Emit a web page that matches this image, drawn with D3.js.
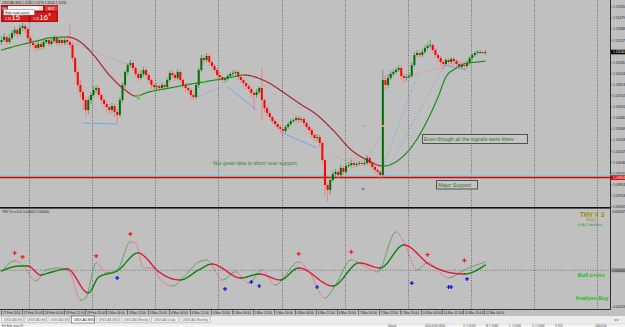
<!DOCTYPE html>
<html>
<head>
<meta charset="utf-8">
<title>USDCAD M30 - THV</title>
<script src="https://cdn.jsdelivr.net/npm/d3@7"></script>
<style>
  body { margin: 0; background: #c0c0c0; overflow: hidden; }
  svg { display: block; font-family: "Liberation Sans", Arial, sans-serif; }
</style>
</head>
<body>
<svg width="625" height="327"></svg>
<script>
// prices are kept in pips above 1.1000 (one pip = 0.0001)
var BASE = 1.1, PIP = 0.0001;

// hourly bars, 27 Feb 2014 12:00 .. 11 Mar 2014 04:00
var openPips = [124,126,129,124,128,133,136,132,138,140, 137,128,123,121,118,122,119,124,126,122,
  125,128,123,126,123,126,124,121,108,94, 81,74,66,56,66,71,76,78,71,66,
  62,59,56,60,54,51,66,81,94,101, 103,98,92,88,92,96,91,86,81,79,
  80,78,81,79,86,93,91,88,94,86, 81,78,76,71,69,81,96,108,106,110,
  104,100,96,91,89,86,87,90,92,93, 94,89,86,83,80,77,73,71,74,78,
  66,58,53,49,45,42,39,37,35,39, 42,45,46,48,46,47,43,39,36,31,
  28,29,23,6,-19,-24,-14,-8,-6,-9, -2,-6,0,1,3,1,2,3,2,3,
  8,3,-1,-4,-6,-9,86,81,88,92, 94,96,98,90,88,89,90,101,111,113,
  111,114,118,120,121,116,111,108,104,102, 106,104,107,105,102,99,101,100,103,108,
  111,113,114,114,113];
var closePips = [126,129,124,128,133,136,132,138,140,137, 128,123,121,118,122,119,124,126,122,125,
  128,123,126,123,126,124,121,108,94,81, 74,66,56,66,71,76,78,71,66,62,
  59,56,60,54,51,66,81,94,101,103, 98,92,88,92,96,91,86,81,79,80,
  78,81,79,86,93,91,88,94,86,81, 78,76,71,69,81,96,108,106,110,104,
  100,96,91,89,86,87,90,92,93,94, 89,86,83,80,77,73,71,74,78,66,
  58,53,49,45,42,39,37,35,39,42, 45,46,48,46,47,43,39,36,31,28,
  29,23,6,-19,-24,-14,-8,-6,-9,-2, -6,0,1,3,1,2,3,2,3,8,
  3,-1,-4,-6,-9,86,81,88,92,94, 96,98,90,88,89,90,101,111,113,111,
  114,118,120,121,116,111,108,104,102,106, 104,107,105,102,99,101,100,103,108,111,
  113,114,114,113,114];
var highPips = [130,133,131,132,136,139,138,141,143,142, 139,130,126,123,124,124,126,129,128,128,
  131,130,128,128,129,128,141,123,111,98, 86,77,69,69,74,80,81,80,73,68,
  65,62,63,62,57,69,84,96,103,106, 105,100,95,96,99,98,93,88,83,83,
  82,84,83,88,96,96,93,97,96,88, 83,80,78,73,83,98,111,111,113,112,
  106,102,98,94,91,89,92,94,96,96, 96,91,88,85,82,79,75,77,80,98,
  68,60,55,51,47,44,41,39,41,44, 47,48,50,50,49,49,45,41,38,33,
  32,31,25,8,-16,-11,-5,-3,-4,1, 0,3,4,6,5,4,5,5,6,11,
  10,5,1,-2,-4,96,91,92,95,97, 99,101,100,92,92,93,104,114,116,115,
  117,121,123,126,123,118,113,110,106,108, 108,109,109,107,104,103,103,105,110,113,
  115,116,116,115,116];
var lowPips = [121,124,121,122,126,130,128,130,135,133, 125,119,117,114,116,116,117,122,119,120,
  123,120,121,120,121,121,118,104,90,76, 68,56,49,52,62,69,73,68,62,58,
  54,51,53,49,43,49,63,78,91,98, 95,89,84,86,89,88,83,77,76,76,
  75,76,76,77,84,88,85,86,83,78, 74,72,67,66,67,78,94,103,104,101,
  97,93,88,86,83,83,85,88,90,91, 86,83,79,77,74,69,56,68,72,46,
  54,50,46,42,39,36,33,31,33,37, 40,43,44,43,44,40,36,33,28,25,
  25,19,1,-29,-36,-29,-16,-11,-12,-11, -9,-8,-2,-1,-2,-1,0,0,0,1,
  0,-4,-7,-9,-14,-12,76,78,86,90, 92,94,86,83,85,87,88,99,109,108,
  109,112,116,118,113,108,104,100,96,100, 101,102,102,99,96,97,97,98,101,106,
  109,111,112,111,111];

// moving average (bar index, pips)
var maHours = [0,7,15,18,25,30,35,41,47,51,56,64,72,79,88,92,101,107,113,120,126,133,139,145,152,157,162,166,169,173,177,181,184];
var maPips = [116,121,126,128,129,124,111,91,76,70,74,78,82,85,89,91,84,74,63,51,36,16,6,0,8,23,46,69,89,98,103,104,105];

// trend lines [bar1, pips1, bar2, pips2]
var blueSolid = [[31,43,44,42],[86,79,97,56],[106,34,120,18],[168,101,177,96]];
var blueDotted = [[73,68,84,79],[145,-1,158,89],[146,-7,168,99]];
var salmonDotted = [[27,124,48,101],[99,83,129,6],[129,6,139,9],[139,9,147,41],[144,86,152,98],[157,91,178,106]];

// horizontal levels
var supportPrice = 1.09884;
var cyanPrice = 1.09903;
var lastPrice = 1.11140;

// THV Trix values (x 1e-6)
var slowHours = [0,7,10,15,18,25,33,37,44,52,55,59,68,75,80,91,98,106,113,126,136,144,153,163,171,176,184];
var slowVals = [-4,26,26,-29,-16,8,-138,-41,-4,106,75,2,-59,2,38,-47,-23,-59,14,-96,45,14,154,32,-16,-23,32];
var fastHours = [0,5,8,13,17,22,26,30,32,36,40,44,49,51,54,58,60,65,70,75,78,84,89,94,99,104,113,117,123,127,133,138,143,150,153,158,162,170,176,184];
var fastVals = [-10,57,32,-65,2,14,-16,-181,-169,45,-16,2,173,166,14,14,-47,-96,-29,51,63,-59,-10,-78,2,-90,51,-10,-169,-90,63,26,-10,234,173,2,45,-47,2,51];
var redMarkHours = [5,8,36,49,113,133,162,176];
var redMarkVals = [105,81,87,221,100,112,95,60];
var blueMarkHours = [44,85,95,98,120,156,170,171,177];
var blueMarkVals = [-47,-114,-71,-96,-102,-78,-102,-102,-53];

var priceTicks = [1.11590,1.11479,1.11368,1.11257,1.11146,1.11035,1.10924,1.10813,1.10702,1.10591,
  1.10480,1.10369,1.10258,1.10147,1.10036,1.09925,1.09814,1.09703,1.09592];
var indTicks = [0.000367, -0.000236];
var gridHours = [10.5,34.5,58.5,82.5,106.5,130.5,154.5,178.5,202.5,226.5];
var timeHours = [0,8,16,24,32,40,48,56,64,72,80,88,96,104,112,120,128,136,144,152,160,168,176,184];
var timeLabels = ["27 Feb 2014","27 Feb 20:00","28 Feb 04:00","28 Feb 12:00","28 Feb 20:00","3 Mar 04:00",
  "3 Mar 12:00","3 Mar 20:00","4 Mar 04:00","4 Mar 12:00","4 Mar 20:00","5 Mar 04:00","5 Mar 12:00",
  "5 Mar 20:00","6 Mar 04:00","6 Mar 12:00","6 Mar 20:00","7 Mar 04:00","7 Mar 12:00","7 Mar 20:00",
  "10 Mar 04:00","10 Mar 12:00","10 Mar 20:00","11 Mar 04:00"];
var tabs = ["USDCAD,H1","USDCAD,H4","USDCAD,M5","USDCAD,M30","USDCAD,M15","USDCAD,Weekly","USDCAD,Daily","USDCAD,Monthly"];
var activeTab = "USDCAD,M30";
var statusItems = ["For Help, press F1","Default","2014.03.04 08:00","O: 1.11045","H: 1.11085","L: 1.11005","C: 1.11060","V: 874","2460/3 kb"];

var svg = d3.select("svg");
var plotRight = 610;
var mainBottom = 207, indTop = 209, indBottom = 309;

var x = d3.scaleLinear().domain([0, 184]).range([1.5, 485.4]);
var y = d3.scaleLinear().domain([1.0959, 1.1166]).range([207, 0]);
var yi = d3.scaleLinear().domain([-0.000236, 0.000367]).range([309, 210]);
function price(p) { return BASE + p * PIP; }
function micro(v) { return v * 1e-6; }

svg.append("rect").attr("width", 625).attr("height", 327).attr("fill", "#c0c0c0");

var defs = svg.append("defs");
defs.append("clipPath").attr("id", "clipMain").append("rect")
  .attr("x", 0).attr("y", 0).attr("width", plotRight).attr("height", mainBottom);
defs.append("clipPath").attr("id", "clipInd").append("rect")
  .attr("x", 0).attr("y", indTop).attr("width", plotRight).attr("height", indBottom - indTop);

// vertical grid
svg.append("g").selectAll("line").data(gridHours).enter().append("line")
  .attr("x1", function (d) { return Math.round(x(d)) + 0.5; })
  .attr("x2", function (d) { return Math.round(x(d)) + 0.5; })
  .attr("y1", 0).attr("y2", indBottom)
  .attr("stroke", "#6a6a6a").attr("stroke-dasharray", "1,1.5");

// colour-switching curve: rising = up colour, falling = down colour
function twoTone(g, pts, upColor, downColor, width) {
  var tmp = g.append("path").attr("d", d3.line().curve(d3.curveMonotoneX)(pts))
    .attr("fill", "none").attr("stroke", "none");
  var node = tmp.node(), len = node.getTotalLength();
  var samples = [];
  for (var s = 0; s < len; s += 1) {
    var p = node.getPointAtLength(s);
    samples.push([p.x, p.y]);
  }
  var pe = node.getPointAtLength(len);
  samples.push([pe.x, pe.y]);
  tmp.remove();
  var runs = [], cur = null;
  for (var k = 1; k < samples.length; k++) {
    var a = samples[k - 1], b = samples[k];
    var c = b[1] < a[1] - 0.01 ? upColor : (b[1] > a[1] + 0.01 ? downColor : (cur ? cur.color : upColor));
    if (!cur || cur.color !== c) { cur = { color: c, pts: [a] }; runs.push(cur); }
    cur.pts.push(b);
  }
  runs.forEach(function (r) {
    g.append("path").attr("d", d3.line()(r.pts)).attr("fill", "none")
      .attr("stroke", r.color).attr("stroke-width", width)
      .attr("stroke-linejoin", "round").attr("stroke-linecap", "round");
  });
}

// ---------- main chart ----------
var main = svg.append("g").attr("clip-path", "url(#clipMain)");

// support lines
main.append("line").attr("x1", 0).attr("x2", plotRight)
  .attr("y1", y(cyanPrice)).attr("y2", y(cyanPrice))
  .attr("stroke", "#5fd8e0").attr("stroke-width", 1);
main.append("line").attr("x1", 0).attr("x2", plotRight)
  .attr("y1", y(supportPrice)).attr("y2", y(supportPrice))
  .attr("stroke", "#d80000").attr("stroke-width", 1.5);

// trend lines
function drawSegs(data, color, dash, width) {
  main.append("g").selectAll("line").data(data).enter().append("line")
    .attr("x1", function (d) { return x(d[0]); })
    .attr("y1", function (d) { return y(price(d[1])); })
    .attr("x2", function (d) { return x(d[2]); })
    .attr("y2", function (d) { return y(price(d[3])); })
    .attr("stroke", color).attr("stroke-width", width)
    .attr("stroke-dasharray", dash);
}
drawSegs(salmonDotted, "#d88a80", "1,1.5", 1);
drawSegs(blueDotted, "#6fa8e8", "1,1.5", 1);
drawSegs(blueSolid, "#6fa8e8", null, 1);

// candles
var bars = d3.range(openPips.length);
var candles = main.append("g");
candles.selectAll("line").data(bars).enter().append("line")
  .attr("x1", function (i) { return x(i); })
  .attr("x2", function (i) { return x(i); })
  .attr("y1", function (i) { return y(price(highPips[i])); })
  .attr("y2", function (i) { return y(price(lowPips[i])); })
  .attr("stroke", function (i) { return closePips[i] >= openPips[i] ? "#5f9a5f" : "#f07a7a"; })
  .attr("stroke-width", 0.9);
candles.selectAll("rect").data(bars).enter().append("rect")
  .attr("x", function (i) { return x(i) - 1; })
  .attr("width", 2)
  .attr("y", function (i) { return y(price(Math.max(openPips[i], closePips[i]))); })
  .attr("height", function (i) {
    return Math.max(1, Math.abs(y(price(openPips[i])) - y(price(closePips[i]))));
  })
  .attr("fill", function (i) { return closePips[i] >= openPips[i] ? "#006e00" : "#ff0000"; });

// moving average
var maPts = maHours.map(function (h, k) { return [x(h), y(price(maPips[k]))]; });
twoTone(main.append("g"), maPts, "#168a16", "#a82020", 1.15);

// small signal marks
main.append("rect").attr("x", x(52) - 1).attr("y", y(price(68)) - 1).attr("width", 2.5).attr("height", 2.5).attr("fill", "#30e030");
main.append("rect").attr("x", x(77) - 1).attr("y", y(price(84)) - 1).attr("width", 2.5).attr("height", 2.5).attr("fill", "#30e030");
main.append("rect").attr("x", x(52) - 1).attr("y", y(price(71)) - 1).attr("width", 2).attr("height", 2).attr("fill", "#f0a020");
main.append("rect").attr("x", x(145) - 1).attr("y", y(price(40)) - 1).attr("width", 2).attr("height", 2).attr("fill", "#f0b030");
main.append("line").attr("x1", x(137.5) - 1.5).attr("x2", x(137.5) + 1.5).attr("y1", y(price(40))).attr("y2", y(price(40))).attr("stroke", "#e08080");
main.append("line").attr("x1", x(137.5) - 1.5).attr("x2", x(137.5) + 1.5).attr("y1", y(price(-23))).attr("y2", y(price(-23))).attr("stroke", "#4040c0");

// annotations
main.append("text").attr("x", 213).attr("y", 165).attr("font-size", 5.3)
  .attr("fill", "#2a8f2a").text("Not great idea to short near support");
function boxLabel(bx, by, bw, bh, txt) {
  main.append("rect").attr("x", bx + 0.5).attr("y", by + 0.5).attr("width", bw).attr("height", bh)
    .attr("fill", "#c4c4c4").attr("stroke", "#505050").attr("stroke-width", 1);
  main.append("text").attr("x", bx + 2).attr("y", by + bh - 1.8).attr("font-size", 5.3)
    .attr("fill", "#1e7e1e").text(txt);
}
boxLabel(422, 134, 105, 9, "Even though all the signals were there");
boxLabel(436, 180, 41, 8.5, "Major Support");

// title
svg.append("text").attr("x", 2).attr("y", 4).attr("font-size", 3).attr("fill", "#202020")
  .text("USDCAD,M30  1.11142 1.11170 1.11140 1.11156");

// one-click trading panel
var tp = svg.append("g");
tp.append("rect").attr("x", 1).attr("y", 5).attr("width", 57).attr("height", 17).attr("fill", "#b81616");
tp.append("text").attr("x", 2).attr("y", 9.6).attr("font-size", 3).attr("fill", "#ffffff").text("SELL");
tp.append("rect").attr("x", 8).attr("y", 6).attr("width", 31).attr("height", 4.5).attr("fill", "#f2f2f2");
tp.append("rect").attr("x", 39).attr("y", 6).attr("width", 4).attr("height", 4.5).attr("fill", "#dcdcdc");
tp.append("rect").attr("x", 45).attr("y", 5.8).attr("width", 12.5).attr("height", 5).attr("fill", "#e03a3a");
tp.append("text").attr("x", 48).attr("y", 9.7).attr("font-size", 3.2).attr("fill", "#ffffff").text("BUY");
[[2, "15", "6"], [30, "16", "8"]].forEach(function (b) {
  tp.append("rect").attr("x", b[0]).attr("y", 12).attr("width", 27).attr("height", 9.5)
    .attr("fill", "#d41c1c").attr("stroke", "#8e0c0c").attr("stroke-width", 0.6);
  tp.append("text").attr("x", b[0] + 3).attr("y", 19.8).attr("font-size", 3.3).attr("fill", "#ffffff").text("1.11");
  tp.append("text").attr("x", b[0] + 9.5).attr("y", 20.3).attr("font-size", 7.5).attr("fill", "#ffffff").text(b[1]);
  tp.append("text").attr("x", b[0] + 18.5).attr("y", 16).attr("font-size", 3.5).attr("fill", "#ffffff").text(b[2]);
});
tp.append("rect").attr("x", 3.5).attr("y", 9.5).attr("width", 31).attr("height", 5.5)
  .attr("fill", "#ffffff").attr("stroke", "#707070").attr("stroke-width", 0.5);
tp.append("text").attr("x", 5).attr("y", 13.5).attr("font-size", 3.3).attr("fill", "#222222").text("Hide trade panel");

// ---------- indicator window ----------
svg.append("rect").attr("x", 0).attr("y", mainBottom).attr("width", plotRight + 1).attr("height", 1.6).attr("fill", "#101010");
var ind = svg.append("g").attr("clip-path", "url(#clipInd)");
ind.append("line").attr("x1", 0).attr("x2", plotRight).attr("y1", yi(0)).attr("y2", yi(0))
  .attr("stroke", "#707070").attr("stroke-dasharray", "1,1.5");

var slowPts = slowHours.map(function (h, k) { return [x(h), yi(micro(slowVals[k]))]; });
var fastPts = fastHours.map(function (h, k) { return [x(h), yi(micro(fastVals[k]))]; });
twoTone(ind.append("g"), fastPts, "#4f9d4f", "#f0707a", 0.9);
twoTone(ind.append("g"), slowPts, "#0a820a", "#e0163c", 1.4);

function plus(g, cx, cy, color) {
  g.append("path").attr("d", "M" + (cx - 2) + "," + cy + "H" + (cx + 2) + "M" + cx + "," + (cy - 2) + "V" + (cy + 2))
    .attr("stroke", color).attr("stroke-width", 1.2);
}
redMarkHours.forEach(function (h, k) { plus(ind, x(h), yi(micro(redMarkVals[k])), "#ff1010"); });
blueMarkHours.forEach(function (h, k) { plus(ind, x(h), yi(micro(blueMarkVals[k])), "#1010e0"); });

svg.append("text").attr("x", 2).attr("y", 212.5).attr("font-size", 3).attr("fill", "#202020")
  .text("THV Trix v.4.01 0.000052 0.000040");
svg.append("text").attr("x", 592).attr("y", 217).attr("text-anchor", "middle").attr("font-size", 6.5)
  .attr("font-weight", "bold").attr("fill", "#9c8c00").text("THV V 3");
svg.append("text").attr("x", 591).attr("y", 221).attr("text-anchor", "middle").attr("font-size", 3)
  .attr("fill", "#7a8a00").text("2010(c)");
svg.append("text").attr("x", 590).attr("y", 225.5).attr("text-anchor", "middle").attr("font-size", 3.2)
  .attr("fill", "#2a9a2a").text("fx By Cobraforex");
svg.append("text").attr("x", 591).attr("y", 277).attr("text-anchor", "middle").attr("font-size", 5.6)
  .attr("font-weight", "bold").attr("fill", "#10c010").text("Bull cross");
svg.append("text").attr("x", 592).attr("y", 299.5).attr("text-anchor", "middle").attr("font-size", 5.6)
  .attr("font-weight", "bold").attr("fill", "#10c010").text("Analyze Buy");

// ---------- right axis ----------
var axis = svg.append("g");
axis.append("line").attr("x1", plotRight + 0.5).attr("x2", plotRight + 0.5).attr("y1", 0).attr("y2", indBottom + 0.5)
  .attr("stroke", "#303030");
axis.append("line").attr("x1", 0).attr("x2", plotRight + 0.5).attr("y1", indBottom + 0.5).attr("y2", indBottom + 0.5)
  .attr("stroke", "#303030");
axis.selectAll(".pt").data(priceTicks).enter().append("text").attr("class", "pt")
  .attr("x", 613).attr("y", function (d) { return y(d) + 1.2; })
  .attr("font-size", 3.4).attr("fill", "#202020")
  .text(function (d) { return d.toFixed(5); });
axis.selectAll(".ptk").data(priceTicks).enter().append("line").attr("class", "ptk")
  .attr("x1", plotRight).attr("x2", plotRight + 2)
  .attr("y1", function (d) { return y(d); }).attr("y2", function (d) { return y(d); })
  .attr("stroke", "#303030").attr("stroke-width", 0.6);
function priceBox(p, fill, color) {
  axis.append("rect").attr("x", plotRight + 1).attr("y", y(p) - 2.3).attr("width", 14).attr("height", 4.6).attr("fill", fill);
  axis.append("text").attr("x", 613).attr("y", y(p) + 1.2).attr("font-size", 3.4).attr("fill", color).text(p.toFixed(5));
}
axis.append("line").attr("x1", plotRight).attr("x2", 625).attr("y1", y(cyanPrice) - 1).attr("y2", y(cyanPrice) - 1)
  .attr("stroke", "#5fd8e0");
priceBox(lastPrice, "#000000", "#ffffff");
priceBox(supportPrice, "#e00000", "#ffffff");
axis.selectAll(".it").data(indTicks).enter().append("text").attr("class", "it")
  .attr("x", 612.2).attr("y", function (d, k) { return k === 0 ? yi(d) + 2.6 : yi(d) - 1.2; })
  .attr("font-size", 3.1).attr("fill", "#202020")
  .text(function (d) { return d.toFixed(6); });
axis.append("rect").attr("x", plotRight + 1).attr("y", yi(0) - 2.2).attr("width", 14).attr("height", 4.4).attr("fill", "#9a9a9a");
axis.append("text").attr("x", 612.5).attr("y", yi(0) + 1.3).attr("font-size", 3.1).attr("fill", "#202020").text("0.000000");

// ---------- time axis ----------
var tg = svg.append("g");
timeHours.forEach(function (h, k) {
  var tx = Math.round(x(h)) - 0.5;
  tg.append("line").attr("x1", tx).attr("x2", tx).attr("y1", 310).attr("y2", 314.5).attr("stroke", "#303030").attr("stroke-width", 0.6);
  tg.append("text").attr("x", tx + 1.2).attr("y", 314).attr("font-size", 3.2).attr("fill", "#202020").text(timeLabels[k]);
});

// ---------- tabs and status bar ----------
svg.append("rect").attr("x", 0).attr("y", 316).attr("width", 625).attr("height", 8).attr("fill", "#ececec");
var tabX = 1;
tabs.forEach(function (t) {
  var w = t.length * 1.75 + 6;
  var on = t === activeTab;
  svg.append("rect").attr("x", tabX + 0.5).attr("y", on ? 316 : 316.5).attr("width", w).attr("height", on ? 7 : 6)
    .attr("fill", on ? "#ffffff" : "#ececec").attr("stroke", on ? "#404040" : "#b8b8b8").attr("stroke-width", 0.6);
  svg.append("text").attr("x", tabX + 3).attr("y", 321).attr("font-size", 3.2)
    .attr("fill", on ? "#101010" : "#707070").text(t);
  tabX += w + 1.5;
});
svg.append("text").attr("x", 614).attr("y", 320.5).attr("font-size", 3.5).attr("fill", "#808080").text("\u25C2 \u25B8");
svg.append("rect").attr("x", 0).attr("y", 323.8).attr("width", 625).attr("height", 3.2).attr("fill", "#f4f4f4");
svg.append("line").attr("x1", 0).attr("x2", 625).attr("y1", 324).attr("y2", 324).attr("stroke", "#c8c8c8").attr("stroke-width", 0.4);
var statusX = [2, 388, 425, 463, 486, 509, 532, 555, 595];
statusItems.forEach(function (s, k) {
  svg.append("text").attr("x", statusX[k]).attr("y", 326.6).attr("font-size", 2.6).attr("fill", "#404040").text(s);
});
</script>
</body>
</html>
